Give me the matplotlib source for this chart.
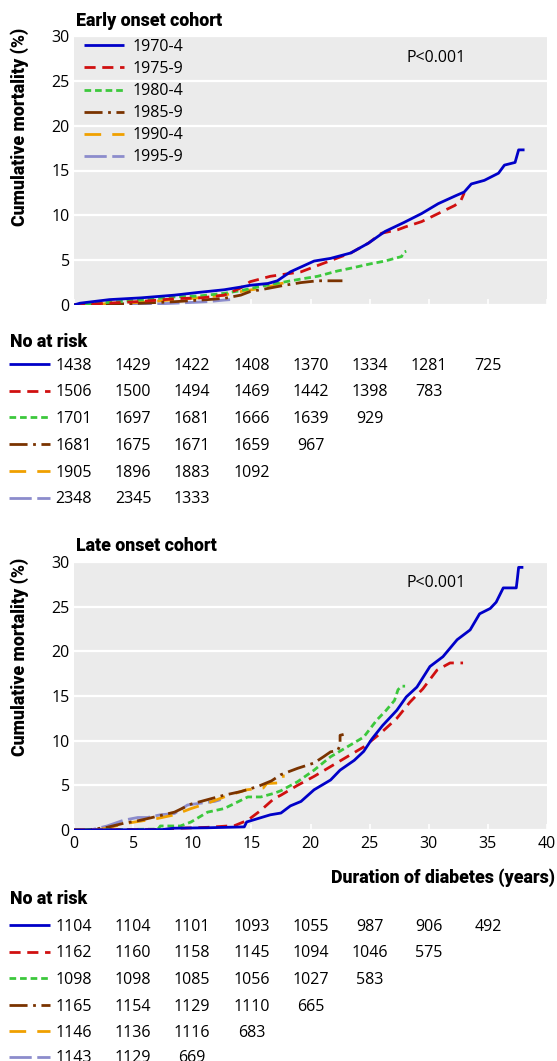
import matplotlib
matplotlib.use("Agg")
import matplotlib.pyplot as plt
from matplotlib.lines import Line2D
from matplotlib.transforms import blended_transform_factory
from matplotlib import font_manager

# ---------------- data ----------------
cohorts = ["1970-4", "1975-9", "1980-4", "1985-9", "1990-4", "1995-9"]

# Early onset cohort (duration in years, cumulative mortality %)
e70_t = [0, 0.5, 3, 5.7, 8.5, 10.5, 12.7, 14.1, 14.9, 16.4, 17.2, 18.3, 20.3, 21.7, 23.4, 24.9, 26.3, 27.9, 29.4, 30.8, 32.3, 33.0, 33.6, 34.7, 35.9, 36.4, 37.3, 37.6, 38.1]
e70_y = [0, 0.2, 0.6, 0.8, 1.1, 1.4, 1.7, 2.0, 2.2, 2.4, 2.7, 3.7, 4.9, 5.2, 5.8, 6.9, 8.2, 9.2, 10.2, 11.3, 12.2, 12.6, 13.5, 13.9, 14.7, 15.6, 15.9, 17.3, 17.3]
e75_t = [0, 2.8, 5.7, 8.5, 10.8, 12.7, 14.1, 14.9, 16.6, 19.2, 20.6, 22.0, 23.4, 24.9, 26.0, 27.4, 28.0, 29.4, 30.8, 32.2, 32.7, 33.0]
e75_y = [0, 0.2, 0.4, 0.7, 0.8, 1.1, 1.9, 2.6, 3.2, 3.7, 4.4, 5.1, 5.8, 6.9, 8.0, 8.4, 8.7, 9.3, 10.2, 11.1, 11.6, 12.5]
e80_t = [0, 3, 6, 8.5, 10.5, 12.7, 14.1, 15.5, 17.5, 19.2, 20.6, 22.3, 23.4, 25.1, 26.3, 27.4, 27.7, 27.9, 28.1]
e80_y = [0, 0.3, 0.6, 0.9, 1.0, 1.3, 1.6, 2.0, 2.5, 2.9, 3.2, 3.8, 4.1, 4.6, 4.9, 5.3, 5.4, 5.9, 6.0]
e85_t = [0, 2.8, 5.7, 8.5, 11.3, 12.7, 14.1, 14.9, 16.4, 17.8, 19.2, 20.6, 22.7]
e85_y = [0, 0.07, 0.2, 0.37, 0.6, 0.74, 1.1, 1.5, 1.85, 2.2, 2.5, 2.7, 2.7]
e90_t = [0, 3, 5.7, 8.5, 10.5, 12.7, 14.1, 14.9, 16.4, 17.5, 18.0]
e90_y = [0, 0.15, 0.3, 0.6, 0.8, 1.1, 1.5, 1.67, 2.0, 2.4, 2.5]
e95_t = [0, 5.7, 8.5, 11.3, 12.7, 13.2]
e95_y = [0, 0.07, 0.2, 0.37, 0.55, 0.6]

# Late onset cohort
l70_t = [0, 7.5, 8.4, 11.3, 14.4, 14.6, 15.6, 16.6, 17.5, 18.3, 19.2, 20.3, 21.7, 22.5, 23.7, 24.5, 25.2, 26.1, 27.3, 28.1, 29.0, 30.1, 31.2, 32.4, 33.5, 34.3, 35.2, 35.7, 36.3, 37.4, 37.5, 37.6, 38.0]
l70_y = [0, 0.05, 0.2, 0.25, 0.35, 0.9, 1.3, 1.7, 1.9, 2.7, 3.2, 4.5, 5.6, 6.7, 7.8, 8.8, 10.2, 11.7, 13.4, 14.9, 16.0, 18.3, 19.4, 21.3, 22.4, 24.2, 24.8, 25.5, 27.1, 27.1, 28.2, 29.4, 29.4]
l75_t = [0, 7.9, 9.0, 11.3, 13.6, 14.7, 15.8, 16.9, 17.5, 18.9, 20.3, 21.7, 23.1, 24.5, 25.9, 27.3, 28.4, 29.5, 30.7, 31.8, 32.9]
l75_y = [0, 0.07, 0.2, 0.3, 0.5, 1.1, 2.2, 3.5, 3.9, 5.0, 6.0, 7.1, 8.2, 9.3, 10.8, 12.5, 14.3, 15.8, 17.9, 18.7, 18.7]
l80_t = [0, 7.1, 7.3, 9.0, 9.9, 11.3, 12.7, 14.7, 15.8, 16.9, 17.5, 18.9, 20.3, 21.7, 23.1, 24.5, 25.6, 26.4, 27.1, 27.4, 27.7, 28.0]
l80_y = [0, 0.1, 0.45, 0.45, 0.9, 2.0, 2.4, 3.7, 3.7, 4.1, 4.4, 5.4, 6.7, 8.2, 9.3, 10.4, 12.3, 13.4, 14.5, 15.7, 16.1, 16.1]
l85_t = [0, 1.0, 1.7, 2.8, 4.2, 5.65, 7.1, 8.5, 9.9, 11.3, 12.7, 14.1, 15.5, 16.7, 17.5, 18.9, 20.3, 21.1, 21.7, 22.3, 22.5, 22.5, 22.8]
l85_y = [0, 0, 0.1, 0.3, 0.75, 1.1, 1.55, 2.0, 2.9, 3.4, 3.9, 4.3, 4.85, 5.5, 6.2, 6.9, 7.5, 8.2, 8.75, 8.9, 9.5, 10.6, 10.7]
l90_t = [0, 1.5, 2.8, 4.2, 5.65, 7.1, 8.5, 9.9, 11.3, 12.7, 14.1, 14.6, 16.0, 16.3, 17.7, 17.7]
l90_y = [0, 0, 0.2, 0.7, 1.0, 1.3, 1.7, 2.4, 3.0, 3.7, 4.3, 4.5, 4.7, 5.2, 5.3, 6.2]
l95_t = [0, 1.4, 2.8, 4.2, 5.4, 6.2, 7.3, 8.5, 9.6, 10.7, 11.9, 12.4]
l95_y = [0, 0, 0.45, 1.1, 1.4, 1.4, 1.7, 1.85, 2.8, 3.0, 3.2, 3.4]

# Numbers at risk (every 5 years from 0)
risk_years = [0, 5, 10, 15, 20, 25, 30, 35]
early_risk = [
    [1438, 1429, 1422, 1408, 1370, 1334, 1281, 725],
    [1506, 1500, 1494, 1469, 1442, 1398, 783],
    [1701, 1697, 1681, 1666, 1639, 929],
    [1681, 1675, 1671, 1659, 967],
    [1905, 1896, 1883, 1092],
    [2348, 2345, 1333],
]
late_risk = [
    [1104, 1104, 1101, 1093, 1055, 987, 906, 492],
    [1162, 1160, 1158, 1145, 1094, 1046, 575],
    [1098, 1098, 1085, 1056, 1027, 583],
    [1165, 1154, 1129, 1110, 665],
    [1146, 1136, 1116, 683],
    [1143, 1129, 669],
]

early_series = [(e70_t, e70_y), (e75_t, e75_y), (e80_t, e80_y), (e85_t, e85_y), (e90_t, e90_y), (e95_t, e95_y)]
late_series = [(l70_t, l70_y), (l75_t, l75_y), (l80_t, l80_y), (l85_t, l85_y), (l90_t, l90_y), (l95_t, l95_y)]

# ---------------- styles ----------------
colors = ["#0000C8", "#D01010", "#3CC83C", "#7A3300", "#F0A000", "#8C8CCC"]
dashes = [None, (4.0, 2.4), (2.4, 1.4), (6.5, 2.0, 1.0, 2.0), (6.0, 4.0), (8.0, 2.0)]
LW = 2.0

avail = {f.name for f in font_manager.fontManager.ttflist}
REG = "Open Sans" if "Open Sans" in avail else "DejaVu Sans"
BOLD = "Roboto" if "Roboto" in avail else "DejaVu Sans"
BW = "black"
FS = 11.5
BFS = 12.8

W, H = 557, 1061
fig = plt.figure(figsize=(W / 100, H / 100), dpi=100)


def fy(px):
    return 1 - px / H


def fx(px):
    return px / W


def make_axes(top_px, bot_px):
    ax = fig.add_axes([fx(74), fy(bot_px), fx(547) - fx(74), (bot_px - top_px) / H])
    ax.set_facecolor("#EBEBEB")
    for s in ax.spines.values():
        s.set_visible(False)
    ax.set_xlim(0, 40)
    ax.set_ylim(0, 30)
    ax.set_xticks(range(0, 41, 5))
    ax.set_yticks(range(0, 31, 5))
    ax.yaxis.grid(True, color="white", lw=1.6)
    ax.set_axisbelow(True)
    ax.tick_params(axis="y", length=0, pad=3, labelsize=FS)
    ax.tick_params(axis="x", direction="in", length=4, width=1.2, color="white", pad=4, labelsize=FS)
    for lab in ax.get_xticklabels() + ax.get_yticklabels():
        lab.set_family(REG)
    return ax


def style_line(line, i):
    if dashes[i] is not None:
        line.set_dashes(dashes[i])


def draw_series(ax, series):
    handles = [None] * len(series)
    for i in reversed(range(len(series))):
        t, y = series[i]
        ln, = ax.plot(t, y, color=colors[i], lw=LW, solid_capstyle="butt", dash_capstyle="butt", label=cohorts[i])
        style_line(ln, i)
        handles[i] = ln
    return handles


def risk_table(ax, risk, header_base, row_centers):
    fig.text(fx(10), fy(header_base), "No at risk", family=BOLD, weight=BW, fontsize=BFS, va="baseline", ha="left")
    tr = blended_transform_factory(ax.transData, fig.transFigure)
    for i, row in enumerate(risk):
        yc = row_centers[i]
        ln = Line2D([fx(9), fx(50)], [fy(yc), fy(yc)], transform=fig.transFigure, color=colors[i], lw=LW,
                    solid_capstyle="butt", dash_capstyle="butt")
        style_line(ln, i)
        fig.add_artist(ln)
        for yr, n in zip(risk_years, row):
            fig.text(yr, fy(yc + 5.8), str(n), transform=tr, family=REG, fontsize=FS, ha="center", va="baseline")


# ---------------- top panel ----------------
ax1 = make_axes(36, 305)
ax1.tick_params(axis="x", labelbottom=False)
h = draw_series(ax1, early_series)
leg = ax1.legend(handles=h, loc="upper left", bbox_to_anchor=(10 / 473, 1 - 3 / 269), frameon=False,
                 borderpad=0, borderaxespad=0, handlelength=2.5, handletextpad=0.55, labelspacing=0.38,
                 prop={"family": REG, "size": FS})
ax1.text(28.1, 27.5, "P<0.001", family=REG, fontsize=FS, ha="left", va="center")
fig.text(fx(76), fy(26), "Early onset cohort", family=BOLD, weight=BW, fontsize=BFS, ha="left", va="baseline")
fig.text(fx(20), fy(127), "Cumulative mortality (%)", family=BOLD, weight=BW, fontsize=BFS,
         rotation=90, ha="center", va="center")
risk_table(ax1, early_risk, 347, [364, 390.5, 417, 444, 471, 497.5])

# ---------------- bottom panel ----------------
ax2 = make_axes(562, 830)
draw_series(ax2, late_series)
ax2.text(28.1, 27.6, "P<0.001", family=REG, fontsize=FS, ha="left", va="center")
fig.text(fx(76), fy(551), "Late onset cohort", family=BOLD, weight=BW, fontsize=BFS, ha="left", va="baseline")
fig.text(fx(20), fy(657), "Cumulative mortality (%)", family=BOLD, weight=BW, fontsize=BFS,
         rotation=90, ha="center", va="center")
fig.text(fx(555), fy(883), "Duration of diabetes (years)", family=BOLD, weight=BW, fontsize=BFS,
         ha="right", va="baseline")
risk_table(ax2, late_risk, 904, [925, 951.5, 978, 1005, 1031, 1056.5])

fig.savefig("out.png", dpi=100, facecolor="white")
